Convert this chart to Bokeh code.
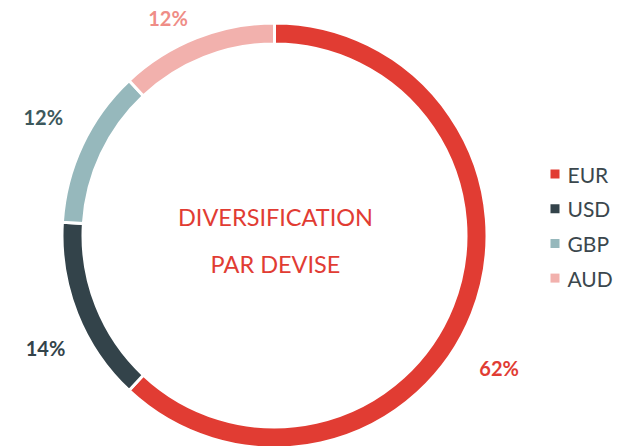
import math
from bokeh.plotting import figure
from bokeh.models import Range1d, ColumnDataSource
from bokeh.core.properties import value
from bokeh.embed import file_html
from bokeh.resources import INLINE

# ---- data ----
currencies = ["EUR", "USD", "GBP", "AUD"]
shares = [62, 14, 12, 12]
title_lines = ["DIVERSIFICATION", "PAR DEVISE"]

# ---- style ----
slice_colors = ["#e13c33", "#33434a", "#96b8bc", "#f2b1ad"]
label_colors = ["#e13c33", "#33434a", "#3c585c", "#ef8d87"]
legend_text_color = "#3b474d"
FONT = "Lato"

W, H = 623, 446
p = figure(width=W, height=H, output_backend="svg", toolbar_location=None,
           x_range=Range1d(0, W), y_range=Range1d(0, H), min_border=0)
p.axis.visible = False
p.xgrid.visible = False
p.ygrid.visible = False
p.outline_line_color = None
p.background_fill_color = "white"
p.border_fill_color = "white"

cx, cy = 274, H - 235
r_in, r_out = 193, 211
gap = 3

total = sum(shares)
starts, ends, mids = [], [], []
acc = 0
for s in shares:
    a0 = acc / total
    acc += s
    a1 = acc / total
    starts.append(math.pi / 2 - a0 * 2 * math.pi)
    ends.append(math.pi / 2 - a1 * 2 * math.pi)
    mids.append((a0 + a1) / 2 * 360)

src = ColumnDataSource(dict(start=starts, end=ends, color=slice_colors))
p.annular_wedge(x=cx, y=cy, inner_radius=r_in - 1.5, outer_radius=r_out + 1.5,
                start_angle="start", end_angle="end", direction="clock",
                fill_color="color", line_color="white", line_width=gap, source=src)

# percentage labels
label_nudge = [9, -4.5, 2, -4.5]
label_r = [261, 255, 260, 242]
lx, ly, lt = [], [], []
for i, s in enumerate(shares):
    ang = math.radians(mids[i] + label_nudge[i])
    lx.append(cx + label_r[i] * math.sin(ang))
    ly.append(cy + label_r[i] * math.cos(ang))
    lt.append(f"{s}%")
p.text(x=lx, y=ly, text=lt, text_color=label_colors, text_font=value(FONT),
       text_font_style="bold", text_font_size="20px", text_align="center",
       text_baseline="middle")

# center title
p.text(x=[cx + 1] * 2, y=[cy + 18.5, cy - 28.5], text=title_lines, text_color="#e13c33",
       text_font=value(FONT), text_font_size="23.5px", text_align="center",
       text_baseline="middle")

# legend
lg_x, lg_y0, lg_dy = 554.5, H - 173.5, 34.7
ys = [lg_y0 - i * lg_dy for i in range(len(currencies))]
p.rect(x=[lg_x] * len(currencies), y=ys, width=9, height=9,
       fill_color=slice_colors, line_color=None)
p.text(x=[lg_x + 12.5] * len(currencies), y=ys, text=currencies,
       text_color=legend_text_color, text_font=value(FONT),
       text_font_size="21px", text_align="left", text_baseline="middle")

open("out.html", "w").write(file_html(p, INLINE))
